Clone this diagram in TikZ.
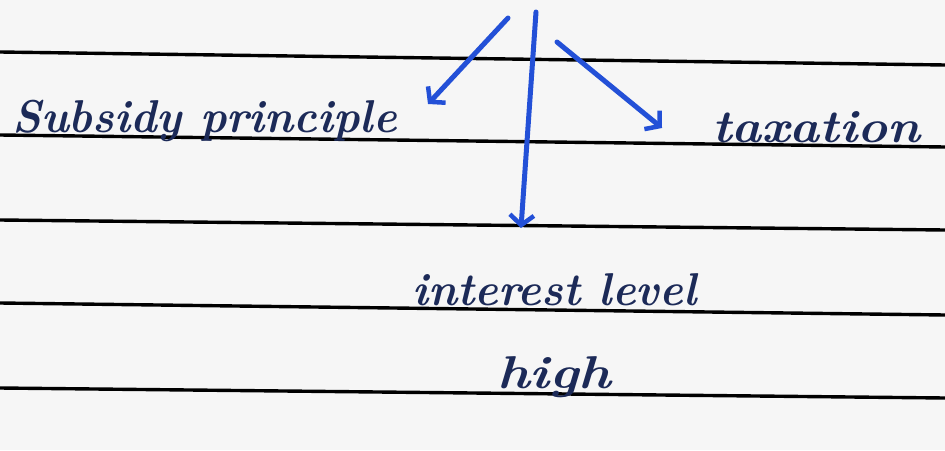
\documentclass[tikz,border=0pt]{standalone}
\usetikzlibrary{arrows.meta}
\definecolor{paper}{RGB}{246,246,246}
\definecolor{ink}{RGB}{28,42,88}
\definecolor{pen}{RGB}{35,80,215}
\tikzset{
  rule/.style={line width=3.4pt, black},
  handtext/.style={ink, inner sep=0pt, font=\fontsize{46}{52}\selectfont\bfseries\itshape},
  penarrow/.style={pen, line width=5pt, line cap=round, -{Straight Barb[length=10pt,width=24pt,line width=4.5pt]}}
}
\begin{document}
\begin{tikzpicture}[x=1pt,y=-1pt]
\fill[paper] (0,0) rectangle (945,450);
\useasboundingbox (0,0) rectangle (945,450);
% ruled lines
\draw[rule] (0,52) -- (945,65);
\draw[rule] (0,135) -- (945,147);
\draw[rule] (0,220) -- (945,230);
\draw[rule] (0,303) -- (945,315);
\draw[rule] (0,388) -- (945,398);
% texts
\node[handtext, anchor=base west] (sub) at (12,132) {\scalebox{0.97}[1]{Subsidy principle}};
\node[handtext, anchor=base west] (tax) at (712,142) {\scalebox{1.1}[1]{taxation}};
\node[handtext, anchor=base west] (int) at (412,305) {\scalebox{0.97}[1]{interest level}};
\node[handtext, anchor=base west] (high) at (497,388) {\scalebox{1.2}[1]{high}};
% arrows
\coordinate (ls) at (508,18);
\coordinate (le) at (428,104);
\coordinate (cs) at (536,12);
\coordinate (ce) at (521,228);
\coordinate (rs) at (557,42);
\coordinate (re) at (662,128);
\draw[penarrow] (ls) -- (le);
\draw[penarrow] (cs) -- (ce);
\draw[penarrow] (rs) -- (re);
\end{tikzpicture}
\end{document}
